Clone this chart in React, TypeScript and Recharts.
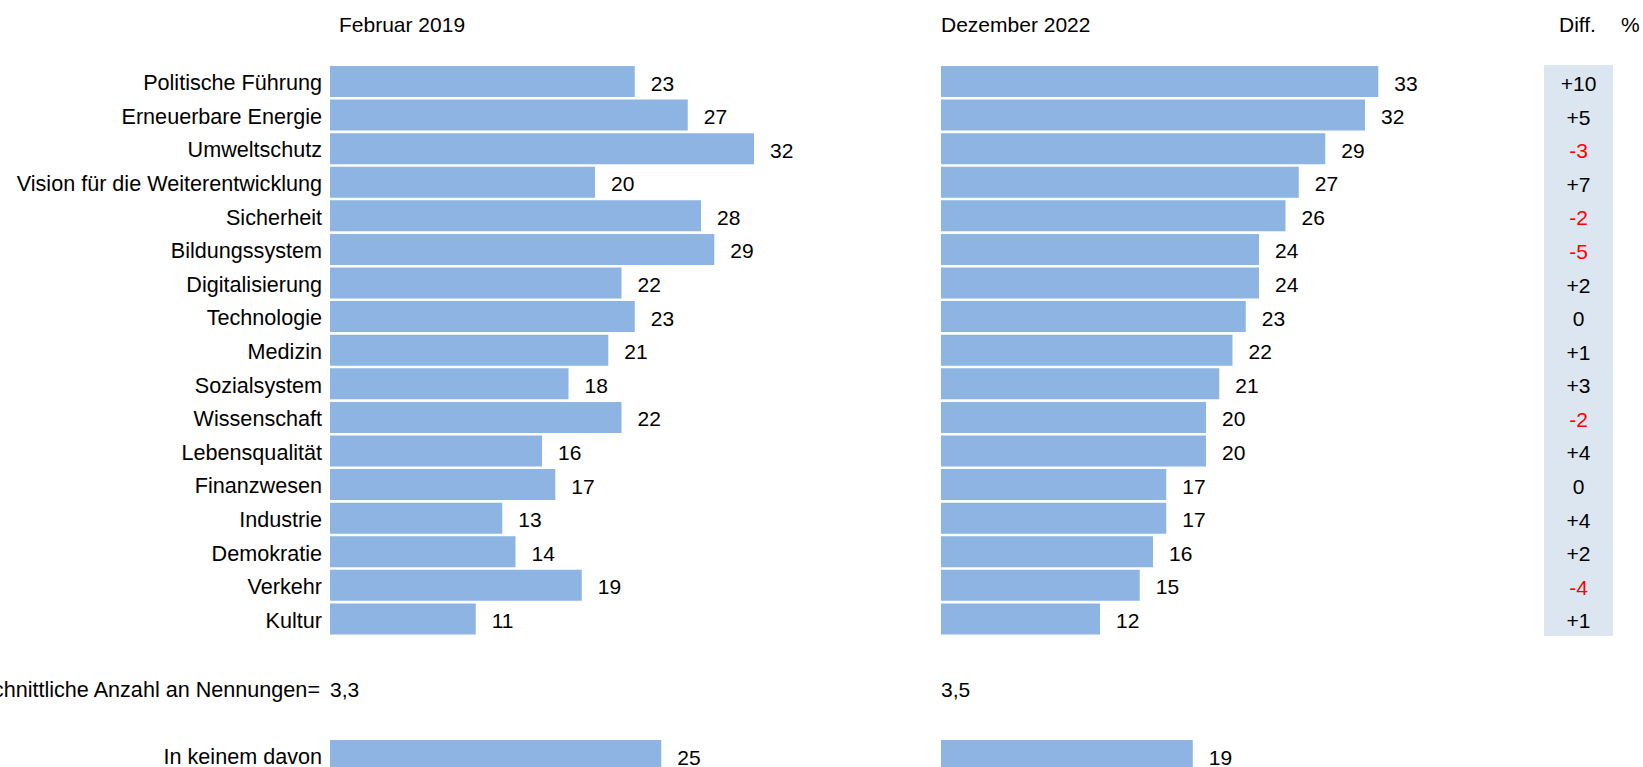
import { BarChart, Bar, XAxis, YAxis, LabelList, ReferenceArea } from "recharts";

const categories = [
  "Politische Führung",
  "Erneuerbare Energie",
  "Umweltschutz",
  "Vision für die Weiterentwicklung",
  "Sicherheit",
  "Bildungssystem",
  "Digitalisierung",
  "Technologie",
  "Medizin",
  "Sozialsystem",
  "Wissenschaft",
  "Lebensqualität",
  "Finanzwesen",
  "Industrie",
  "Demokratie",
  "Verkehr",
  "Kultur",
];
const feb2019 = [23, 27, 32, 20, 28, 29, 22, 23, 21, 18, 22, 16, 17, 13, 14, 19, 11];
const dez2022 = [33, 32, 29, 27, 26, 24, 24, 23, 22, 21, 20, 20, 17, 17, 16, 15, 12];
const periods = ["Februar 2019", "Dezember 2022"];
const avgLabel = "Durchschnittliche Anzahl an Nennungen=";
const avgMentions = ["3,3", "3,5"];
const noneLabel = "In keinem davon";
const noneValues = [25, 19];

const rows = categories.map((name, i) => ({
  name,
  feb: feb2019[i],
  dez: dez2022[i],
  diff: dez2022[i] - feb2019[i],
}));
const noneFeb = [{ name: noneLabel, value: noneValues[0] }];
const noneDez = [{ name: noneLabel, value: noneValues[1] }];

const BAR = "#8db4e2";
const FONT = 21;
const CAT_FONT = 21.6;

function CatTick(props: any) {
  const { x, y, payload } = props;
  return (
    <text x={x} y={Number(y) + 8.5} textAnchor="end" fontSize={CAT_FONT} fill="#000">
      {payload.value}
    </text>
  );
}

function ValueLabel(props: any) {
  const { x, y, width, height, value } = props;
  return (
    <text x={Number(x) + Number(width) + 16} y={Number(y) + Number(height) / 2 + 9} fontSize={FONT} fill="#000">
      {value}
    </text>
  );
}

function DiffLabel(props: any) {
  const { x, y, width, height, value } = props;
  const v = Number(value);
  return (
    <text
      x={Number(x) + Number(width) / 2}
      y={Number(y) + Number(height) / 2 + 9}
      textAnchor="middle"
      fontSize={FONT}
      fill={v < 0 ? "#ff0000" : "#000"}
    >
      {v > 0 ? `+${v}` : `${v}`}
    </text>
  );
}

export default function App() {
  return (
    <div
      style={{
        position: "absolute", left: 0, top: 0, width: 1643, height: 767, overflow: "hidden",
        background: "#fff", fontFamily: '"Liberation Sans", Arial, sans-serif',
      }}
    >
      {/* Februar 2019 */}
      <div style={{ position: "absolute", left: 0, top: 0 }}>
        <BarChart layout="vertical" width={880} height={640} data={rows} barSize={31}
          margin={{ top: 65, right: 20, bottom: 4, left: 0 }}>
          <XAxis type="number" domain={[0, 40]} hide />
          <YAxis type="category" dataKey="name" width={330} axisLine={false} tickLine={false} interval={0} tick={CatTick} />
          <Bar dataKey="feb" fill={BAR} isAnimationActive={false}>
            <LabelList dataKey="feb" content={ValueLabel} />
          </Bar>
        </BarChart>
      </div>

      {/* Dezember 2022 */}
      <div style={{ position: "absolute", left: 941, top: 0 }}>
        <BarChart layout="vertical" width={600} height={640} data={rows} barSize={31}
          margin={{ top: 65, right: 70, bottom: 4, left: 0 }}>
          <XAxis type="number" domain={[0, 40]} hide />
          <YAxis type="category" dataKey="name" hide />
          <Bar dataKey="dez" fill={BAR} isAnimationActive={false}>
            <LabelList dataKey="dez" content={ValueLabel} />
          </Bar>
        </BarChart>
      </div>

      {/* Diff. column */}
      <div style={{ position: "absolute", left: 1544, top: 0 }}>
        <BarChart layout="vertical" width={69} height={640} data={rows} barCategoryGap={0}
          margin={{ top: 65, right: 0, bottom: 4, left: 0 }}>
          <XAxis type="number" domain={[0, 1]} hide />
          <YAxis type="category" dataKey="name" hide />
          <ReferenceArea x1={0} x2={1} fill="#dce6f1" fillOpacity={1} stroke="none" />
          <Bar dataKey={() => 1} fill="transparent" isAnimationActive={false}>
            <LabelList dataKey="diff" content={DiffLabel} />
          </Bar>
        </BarChart>
      </div>

      {/* In keinem davon */}
      <div style={{ position: "absolute", left: 0, top: 700 }}>
        <BarChart layout="vertical" width={880} height={80} data={noneFeb} barSize={31}
          margin={{ top: 39, right: 20, bottom: 7.4, left: 0 }}>
          <XAxis type="number" domain={[0, 40]} hide />
          <YAxis type="category" dataKey="name" width={330} axisLine={false} tickLine={false} tick={CatTick} />
          <Bar dataKey="value" fill={BAR} isAnimationActive={false}>
            <LabelList dataKey="value" content={ValueLabel} />
          </Bar>
        </BarChart>
      </div>
      <div style={{ position: "absolute", left: 941, top: 700 }}>
        <BarChart layout="vertical" width={600} height={80} data={noneDez} barSize={31}
          margin={{ top: 39, right: 70, bottom: 7.4, left: 0 }}>
          <XAxis type="number" domain={[0, 40]} hide />
          <YAxis type="category" dataKey="name" hide />
          <Bar dataKey="value" fill={BAR} isAnimationActive={false}>
            <LabelList dataKey="value" content={ValueLabel} />
          </Bar>
        </BarChart>
      </div>

      {/* headers and averages */}
      <svg width={1643} height={767} style={{ position: "absolute", left: 0, top: 0, pointerEvents: "none" }}>
        <g fontSize={FONT} fill="#000">
          <text x={339} y={32}>{periods[0]}</text>
          <text x={941} y={32}>{periods[1]}</text>
          <text x={1559} y={32}>Diff.</text>
          <text x={1621} y={32}>%</text>
          <text x={320} y={697} textAnchor="end" fontSize={CAT_FONT}>{avgLabel}</text>
          <text x={330} y={697}>{avgMentions[0]}</text>
          <text x={941} y={697}>{avgMentions[1]}</text>
        </g>
      </svg>
    </div>
  );
}
